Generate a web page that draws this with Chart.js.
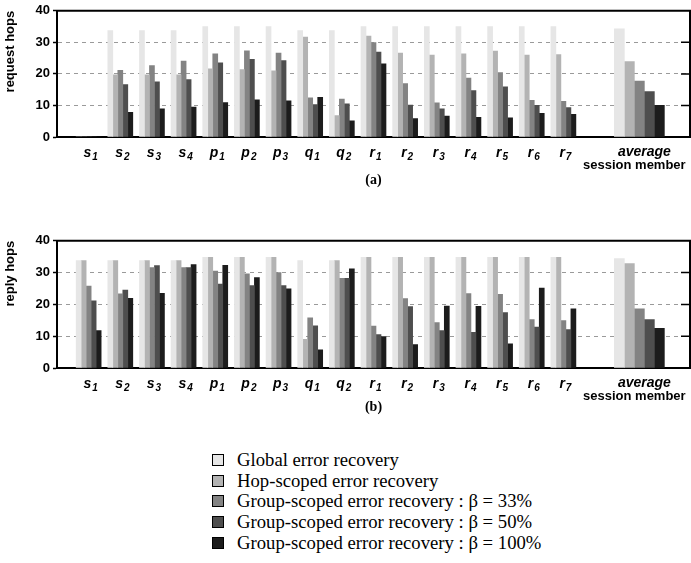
<!DOCTYPE html>
<html>
<head>
<meta charset="utf-8">
<script src="https://cdn.jsdelivr.net/npm/chart.js@4"></script>
<style>
  html, body { margin: 0; padding: 0; background: #fff; }
  body { width: 691px; height: 563px; position: relative; overflow: hidden; }
  canvas { position: absolute; left: 0; }
  #ca { top: 0; }
  #cb { top: 230px; }
  #legend { position: absolute; left: 212px; top: 450px; font-family: "Liberation Serif", "Times New Roman", serif; font-size: 18.7px; color: #000; }
  .row { height: 20.6px; display: flex; align-items: center; white-space: nowrap; }
  .box { width: 10px; height: 10px; border: 1px solid #000; margin-right: 13px; flex: none; }
</style>
</head>
<body>
<canvas id="ca" width="691" height="200"></canvas>
<canvas id="cb" width="691" height="200"></canvas>
<div id="legend"></div>
<script>
// ---------- data ----------
const categories = ['s1','s2','s3','s4','p1','p2','p3','q1','q2','r1','r2','r3','r4','r5','r6','r7'];
const averageLabel = ['average', 'session member'];
const seriesNames = [
  'Global error recovery',
  'Hop-scoped error recovery',
  'Group-scoped error recovery : \u03B2 = 33%',
  'Group-scoped error recovery : \u03B2 = 50%',
  'Group-scoped error recovery : \u03B2 = 100%'
];
const yTicks = [0, 10, 20, 30, 40];

// (a) request hops, per session member
const reqGlobal = [0, 33.7, 33.7, 33.7, 35, 35, 35, 33.7, 33.7, 35, 35, 35, 35, 35, 35, 35];
const reqHop    = [0, 19.7, 19.7, 19.7, 21.6, 21.4, 21.0, 31.7, 6.8, 32.0, 26.6, 26.0, 26.4, 27.2, 26.0, 26.1];
const reqG33    = [0, 21.1, 22.6, 24.1, 26.4, 27.3, 26.6, 12.4, 12.0, 29.9, 16.9, 10.8, 18.7, 20.4, 11.6, 11.3];
const reqG50    = [0, 16.6, 17.5, 18.2, 23.5, 24.6, 24.2, 10.3, 10.5, 26.9, 10.1, 8.9, 14.7, 15.9, 10.0, 9.3];
const reqG100   = [0, 7.8, 8.9, 9.5, 10.9, 11.8, 11.5, 12.6, 5.1, 23.2, 5.8, 6.6, 6.2, 6.1, 7.5, 7.2];
const reqAverage = [34.3, 23.9, 17.7, 14.4, 10.0];

// (b) reply hops, per session member
const repGlobal = [33.8, 33.8, 33.8, 33.8, 34.8, 34.8, 34.8, 33.8, 33.8, 34.8, 34.8, 34.8, 34.8, 34.8, 34.8, 34.8];
const repHop    = [33.8, 33.8, 33.8, 33.8, 34.8, 34.8, 34.8, 9.0, 33.8, 34.8, 34.8, 34.8, 34.8, 34.8, 34.8, 34.8];
const repG33    = [25.8, 23.3, 31.6, 31.6, 30.5, 29.6, 30.0, 15.8, 28.2, 13.2, 21.8, 14.3, 23.4, 23.2, 15.2, 14.9];
const repG50    = [21.1, 24.5, 32.2, 31.6, 26.4, 25.9, 25.9, 13.3, 28.2, 10.5, 19.3, 11.8, 11.2, 17.4, 12.9, 12.1];
const repG100   = [11.8, 21.9, 23.5, 32.5, 32.3, 28.4, 24.9, 5.7, 31.2, 9.9, 7.4, 19.5, 19.4, 7.6, 25.1, 18.6];
const repAverage = [34.4, 32.8, 18.6, 15.2, 12.5];

// ---------- styling / layout ----------
const colors = ['#e6e6e6', '#b3b3b3', '#838383', '#4e4e4e', '#1c1c1c'];
const AVG_POS = 18.4;   // slot position of the "average" group on the x scale
const X_MAX = 20;
const SANS = '"Liberation Sans", Arial, Helvetica, sans-serif';
const SERIF = '"Liberation Serif", "Times New Roman", serif';

function buildDatasets(memberSeries, avgValues) {
  const ds = [];
  memberSeries.forEach((vals, s) => {
    ds.push({
      label: seriesNames[s],
      backgroundColor: colors[s],
      barThickness: 5,
      data: vals.map((v, i) => ({ x: i + 1, y: v })).concat([{ x: AVG_POS, y: null }])
    });
  });
  avgValues.forEach((v, s) => {
    ds.push({
      label: seriesNames[s] + ' (average)',
      backgroundColor: colors[s],
      barThickness: 10,
      data: categories.map((c, i) => ({ x: i + 1, y: null })).concat([{ x: AVG_POS, y: v }])
    });
  });
  return ds;
}

const framePlugin = {
  id: 'frame',
  afterDraw(chart) {
    const { ctx, chartArea: { left, right, top, bottom }, scales: { x, y } } = chart;
    ctx.save();
    ctx.strokeStyle = '#000';
    ctx.lineWidth = 2;
    ctx.beginPath();
    ctx.moveTo(left - 1, top);
    ctx.lineTo(right, top);
    ctx.lineTo(right, bottom + 1);
    ctx.stroke();
    ctx.lineWidth = 1.5;
    ctx.beginPath();
    y.ticks.forEach(t => {
      if (t.value > yTicks[0] && t.value < yTicks[yTicks.length - 1]) {
        const py = y.getPixelForValue(t.value);
        ctx.moveTo(right - 9, py);
        ctx.lineTo(right, py);
      }
    });
    ctx.stroke();
    ctx.fillStyle = '#000';
    ctx.textBaseline = 'alphabetic';
    ctx.textAlign = 'left';
    const base = bottom + 20;
    categories.forEach((c, i) => {
      const cx = x.getPixelForValue(i + 1) + 2;
      const main = c[0], sub = c.slice(1);
      ctx.font = 'italic bold 14px ' + SANS;
      const w1 = ctx.measureText(main).width;
      ctx.font = 'italic bold 10px ' + SANS;
      const w2 = ctx.measureText(sub).width;
      const x0 = cx - (w1 + w2 + 1) / 2;
      ctx.font = 'italic bold 14px ' + SANS;
      ctx.fillText(main, x0, base);
      ctx.font = 'italic bold 10px ' + SANS;
      ctx.fillText(sub, x0 + w1 + 1, base + 3);
    });
    const ax = x.getPixelForValue(AVG_POS);
    ctx.textAlign = 'center';
    ctx.font = 'italic bold 14px ' + SANS;
    ctx.fillText(averageLabel[0], ax + 5, bottom + 19);
    ctx.font = 'bold 13px ' + SANS;
    ctx.fillText(averageLabel[1], ax - 5, bottom + 32);
    ctx.restore();
  }
};

function makeChart(id, memberSeries, avgValues, yTitle, xTitle, xHeight, titlePad) {
  return new Chart(document.getElementById(id), {
    type: 'bar',
    data: { datasets: buildDatasets(memberSeries, avgValues) },
    options: {
      responsive: false,
      devicePixelRatio: 1,
      animation: false,
      layout: { padding: { top: 10, right: 1, left: 0, bottom: 0 } },
      datasets: { bar: { skipNull: true, grouped: true, borderWidth: 0 } },
      plugins: { legend: { display: false }, tooltip: { enabled: false } },
      scales: {
        x: {
          type: 'linear',
          min: 0,
          max: X_MAX,
          offset: false,
          grid: { display: false },
          border: { display: true, color: '#000', width: 2 },
          ticks: { display: false },
          title: { display: true, text: xTitle, color: '#000', font: { family: SERIF, size: 14, weight: 'bold' }, padding: { top: 0, bottom: titlePad } },
          afterFit(scale) { scale.height = xHeight; }
        },
        y: {
          min: yTicks[0],
          max: yTicks[yTicks.length - 1],
          afterBuildTicks(scale) { scale.ticks = yTicks.map(v => ({ value: v })); },
          grid: {
            color: c => (c.tick && (c.tick.value === yTicks[0] || c.tick.value === yTicks[yTicks.length - 1])) ? 'rgba(0,0,0,0)' : '#9a9a9a',
            lineWidth: 1,
            tickColor: '#000',
            tickLength: 4,
            tickWidth: 1.5
          },
          border: { display: true, color: '#000', width: 2, dash: [4, 4] },
          ticks: { color: '#000', font: { family: SANS, size: 13, weight: 'bold' }, padding: 3 },
          title: { display: true, text: yTitle, align: 'end', color: '#000', font: { family: SANS, size: 13, weight: 'bold' }, padding: { top: 3, bottom: 0 } },
          afterFit(scale) { scale.width = 57; }
        }
      }
    },
    plugins: [framePlugin]
  });
}

makeChart('ca', [reqGlobal, reqHop, reqG33, reqG50, reqG100], reqAverage, 'request hops', '(a)', 63, 11.6);
makeChart('cb', [repGlobal, repHop, repG33, repG50, repG100], repAverage, 'reply hops', '(b)', 62, 14.6);

// legend
const legend = document.getElementById('legend');
seriesNames.forEach((name, i) => {
  const row = document.createElement('div');
  row.className = 'row';
  const box = document.createElement('div');
  box.className = 'box';
  box.style.background = colors[i];
  const txt = document.createElement('span');
  txt.textContent = name;
  row.appendChild(box);
  row.appendChild(txt);
  legend.appendChild(row);
});
</script>
</body>
</html>
